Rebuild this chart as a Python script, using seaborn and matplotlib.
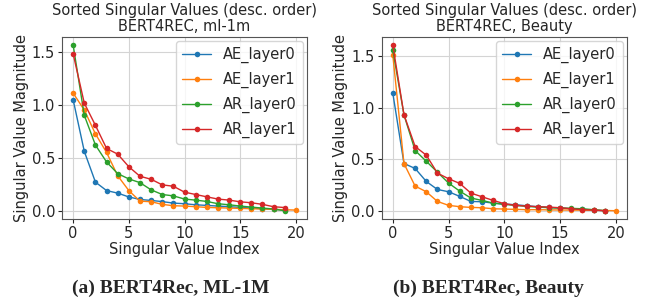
import numpy as np
import seaborn as sns
import matplotlib.pyplot as plt

sns.set_style("ticks", {'axes.grid': True})
plt.rcParams['font.family'] = ['DejaVu Sans']

series_names = ["AE_layer0", "AE_layer1", "AR_layer0", "AR_layer1"]

# BERT4Rec, ml-1m
ml_ae0 = [1.047, 0.56, 0.27, 0.19, 0.166, 0.13, 0.106, 0.097, 0.086, 0.072, 0.066,
          0.056, 0.05, 0.044, 0.038, 0.031, 0.025, 0.019, 0.013, 0.006]
ml_ae1 = [1.11, 0.95, 0.725, 0.55, 0.33, 0.19, 0.09, 0.085, 0.06, 0.047, 0.044,
          0.038, 0.031, 0.028, 0.025, 0.022, 0.019, 0.016, 0.013, 0.009, 0.006]
ml_ar0 = [1.5625, 0.90, 0.62, 0.46, 0.35, 0.30, 0.265, 0.197, 0.153, 0.14, 0.11,
          0.10, 0.0875, 0.066, 0.056, 0.044, 0.034, 0.025, 0.016, 0.0]
ml_ar1 = [1.48, 1.015, 0.806, 0.5875, 0.534, 0.415, 0.325, 0.297, 0.244, 0.231, 0.175,
          0.153, 0.131, 0.11, 0.10, 0.084, 0.075, 0.06, 0.0375, 0.03]

# BERT4Rec, Beauty
be_ae0 = [1.14, 0.458, 0.41, 0.284, 0.206, 0.184, 0.139, 0.09, 0.087, 0.074, 0.065,
          0.058, 0.048, 0.039, 0.032, 0.026, 0.019, 0.013, 0.006, 0.0]
be_ae1 = [1.51, 0.458, 0.239, 0.184, 0.09, 0.052, 0.039, 0.032, 0.029, 0.019, 0.016,
          0.013, 0.01, 0.01, 0.008, 0.007, 0.006, 0.005, 0.004, 0.002, 0.0]
be_ar0 = [1.558, 0.93, 0.584, 0.48, 0.374, 0.268, 0.19, 0.123, 0.10, 0.074, 0.061,
          0.052, 0.042, 0.035, 0.029, 0.026, 0.023, 0.019, 0.01, 0.0]
be_ar1 = [1.606, 0.932, 0.623, 0.539, 0.365, 0.31, 0.265, 0.171, 0.135, 0.10, 0.068,
          0.052, 0.045, 0.039, 0.035, 0.029, 0.019, 0.01, 0.006, 0.0]

panels = [
    ("Sorted Singular Values (desc. order)\nBERT4REC, ml-1m", [ml_ae0, ml_ae1, ml_ar0, ml_ar1],
     "(a) BERT4Rec, ML-1M"),
    ("Sorted Singular Values (desc. order)\nBERT4REC, Beauty", [be_ae0, be_ae1, be_ar0, be_ar1],
     "(b) BERT4Rec, Beauty"),
]

colors = sns.color_palette("tab10", 4)

fig = plt.figure(figsize=(6.55, 3.05), dpi=100)
axes = [fig.add_axes([0.0947, 0.282, 0.374, 0.597]),
        fig.add_axes([0.5827, 0.282, 0.3745, 0.597])]

for ax, (title, data, caption), cx in zip(axes, panels, [0.26, 0.745]):
    for name, vals, col in zip(series_names, data, colors):
        sns.lineplot(x=np.arange(len(vals)), y=vals, ax=ax, color=col, label=name,
                     marker='o', markersize=4, markeredgewidth=0, linewidth=1)
    ax.set_title(title, fontsize=10.5, pad=4, linespacing=1.1)
    ax.set_xlabel("Singular Value Index", fontsize=10.5, labelpad=1)
    ax.set_ylabel("Singular Value Magnitude", fontsize=10.5, labelpad=2)
    ax.set_xticks([0, 5, 10, 15, 20])
    ax.set_yticks([0.0, 0.5, 1.0, 1.5])
    ax.tick_params(labelsize=10.5, length=3, pad=2)
    ax.grid(True, color='#d4d4d4', linewidth=0.8)
    for s in ax.spines.values():
        s.set_color('#555555')
        s.set_linewidth(0.8)
    ax.legend(loc="upper right", fontsize=10.5, frameon=True, labelspacing=0.6,
              handlelength=2.0, borderaxespad=0.3)
    fig.text(cx, 0.055, caption, ha='center', va='center', fontsize=14,
             fontweight='bold', family='Liberation Serif')

fig.savefig("out.png", dpi=100)
